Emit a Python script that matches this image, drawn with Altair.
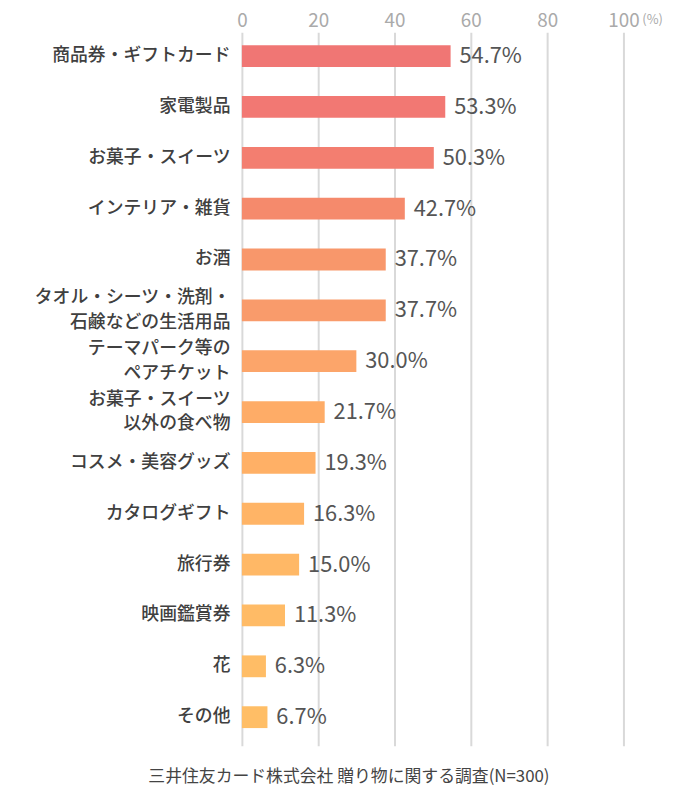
import altair as alt
import pandas as pd

categories = [
    "商品券・ギフトカード",
    "家電製品",
    "お菓子・スイーツ",
    "インテリア・雑貨",
    "お酒",
    "タオル・シーツ・洗剤・\n石鹸などの生活用品",
    "テーマパーク等の\nペアチケット",
    "お菓子・スイーツ\n以外の食べ物",
    "コスメ・美容グッズ",
    "カタログギフト",
    "旅行券",
    "映画鑑賞券",
    "花",
    "その他",
]
values = [54.7, 53.3, 50.3, 42.7, 37.7, 37.7, 30.0, 21.7, 19.3, 16.3, 15.0, 11.3, 6.3, 6.7]
bar_colors = [
    "#F07674", "#F27873", "#F37E70", "#F58A6C", "#F8976B", "#F99B6B", "#FCA56A",
    "#FEAC67", "#FFB066", "#FFB466", "#FFB866", "#FFBB66", "#FFBD66", "#FFBE66",
]
x_ticks = [0, 20, 40, 60, 80, 100]
source_text = "三井住友カード株式会社 贈り物に関する調査(N=300)"

FONT = "Noto Sans CJK JP"
W, H = 385, 720

df = pd.DataFrame({"cat": categories, "value": values})

y_enc = alt.Y(
    "cat:N",
    sort=categories,
    scale=alt.Scale(paddingInner=0.571, paddingOuter=0.3016, align=0.42),
    axis=alt.Axis(
        title=None,
        ticks=False,
        domain=False,
        labelExpr="split(datum.label, '\\n')",
        labelFont=FONT,
        labelFontSize=18,
        labelFontWeight=500,
        labelColor="#404040",
        labelPadding=12,
        labelLineHeight=25,
        labelLimit=300,
        labelOffset={"condition": {"test": "indexof(datum.value, '\\n') >= 0", "value": -12.5}, "value": 0},
    ),
)

x_scale = alt.Scale(domain=[0, 100], nice=False)

bars = alt.Chart(df).mark_bar().encode(
    x=alt.X(
        "value:Q",
        scale=x_scale,
        axis=alt.Axis(
            orient="top",
            values=x_ticks,
            title=None,
            ticks=False,
            domain=False,
            grid=True,
            gridColor="#d9d9d9",
            gridWidth=2,
            labelFont=FONT,
            labelFontSize=19,
            labelColor="#aaaaaa",
            labelPadding=2,
            labelFlush=False,
        ),
    ),
    y=y_enc,
    color=alt.Color("cat:N", scale=alt.Scale(domain=categories, range=bar_colors), legend=None),
)

labels = alt.Chart(df).transform_calculate(
    lbl="format(datum.value, '.1f') + '%'"
).mark_text(
    align="left", baseline="middle", dx=9, font=FONT, fontSize=22, color="#555555"
).encode(
    x=alt.X("value:Q", scale=x_scale),
    y=alt.Y("cat:N", sort=categories),
    text="lbl:N",
)

pct = alt.Chart(pd.DataFrame({"v": [100], "t": ["(%)"]})).mark_text(
    align="left", baseline="middle", dx=19, font=FONT, fontSize=13, color="#aaaaaa"
).encode(
    x=alt.X("v:Q", scale=x_scale),
    y=alt.value(-12),
    text="t:N",
)

src = alt.Chart(pd.DataFrame({"t": [source_text]})).mark_text(
    align="center", baseline="middle", font=FONT, fontSize=17, color="#444444"
).encode(
    x=alt.value(108),
    y=alt.value(H + 31),
    text="t:N",
)

chart = alt.layer(bars, labels, pct, src).properties(
    width=W,
    height=H,
    autosize=alt.AutoSizeParams(type="none"),
    padding={"left": 236, "top": 21, "right": 50, "bottom": 40},
).configure_view(stroke=None)

chart.save("out.html", embed_options={"renderer": "svg", "actions": False})
